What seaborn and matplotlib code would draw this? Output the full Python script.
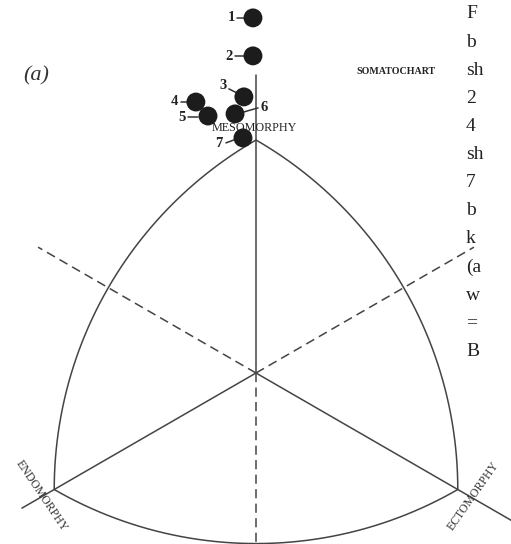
import numpy as np
import pandas as pd
import matplotlib
matplotlib.use("Agg")
import matplotlib.pyplot as plt
import seaborn as sns

# Somatotype positions of the seven groups on the somatochart (chart units, origin at the centre)
group_ids = ["1", "2", "3", "4", "5", "6", "7"]
chart_x = [-0.13, -0.13, -0.52, -2.58, -2.06, -0.90, -0.56]
chart_y = [15.24, 13.61, 11.85, 11.63, 11.03, 11.12, 10.09]

axis_names = ["MESOMORPHY", "ENDOMORPHY", "ECTOMORPHY"]
chart_title = "SOMATOCHART"
panel_tag = "(a)"
# right-hand column of the page running past the figure edge
side_text = ["F", "b", "sh", "2", "4", "sh", "7", "b", "k", "(a", "w", "=", "B"]

sns.set_theme(style="white")
plt.rcParams["font.family"] = ["Liberation Serif", "DejaVu Serif"]

PX = 23.3                 # pixels per chart unit
CX, CY = 256.0, 373.0     # chart centre in pixels
W, H = 511, 544

fig = plt.figure(figsize=(W / 100, H / 100), dpi=100)
ax = fig.add_axes([0, 0, 1, 1])
ax.set_xlim((0 - CX) / PX, (W - CX) / PX)
ax.set_ylim((CY - H) / PX, CY / PX)
ax.set_axis_off()

line_col = "#444444"
lw = 1.1
R = 10.0
ang = {"meso": 90, "endo": 210, "ecto": 330}
vert = {k: np.array([R * np.cos(np.radians(a)), R * np.sin(np.radians(a))]) for k, a in ang.items()}


def ray(angle_deg, length, **kw):
    a = np.radians(angle_deg)
    ax.plot([0, length * np.cos(a)], [0, length * np.sin(a)], **kw)


# solid axes through the three poles
ray(90, (CY - 75) / PX, color=line_col, lw=lw)
ray(210, 11.6, color=line_col, lw=lw)
ray(330, 12.8, color=line_col, lw=lw)
# dashed bisectors
side = R * np.sqrt(3)
dash = dict(color=line_col, lw=lw, dashes=(6, 3.5))
ray(150, 10.8, **dash)
ray(30, 10.8, **dash)
ray(270, side - R, **dash)

# curved sides: each arc is centred on the opposite pole
for a_key, b_key, c_key in [("meso", "endo", "ecto"), ("endo", "ecto", "meso"), ("ecto", "meso", "endo")]:
    c = vert[c_key]
    t0 = np.arctan2(*(vert[a_key] - c)[::-1])
    t1 = np.arctan2(*(vert[b_key] - c)[::-1])
    if t1 - t0 > np.pi:
        t1 -= 2 * np.pi
    if t0 - t1 > np.pi:
        t1 += 2 * np.pi
    t = np.linspace(t0, t1, 200)
    ax.plot(c[0] + side * np.cos(t), c[1] + side * np.sin(t), color=line_col, lw=lw)

# group means
df = pd.DataFrame({"group": group_ids, "x": chart_x, "y": chart_y})
sns.scatterplot(data=df, x="x", y="y", ax=ax, s=185, color="#1c1c1c",
                edgecolor="none", legend=False, zorder=5)

# number labels with short leader lines (offsets in pixels, y downward)
label_layout = {
    "1": ((-22, 0), (-16, 0), (-9, 0)),
    "2": ((-24, 1), (-18, 0), (-9, 0)),
    "3": ((-21, -11), (-15, -8), (-7, -4)),
    "4": ((-21, -1), (-15, 0), (-9, 0)),
    "5": ((-26, 1), (-20, 1), (-10, 1)),
    "6": ((29, -6), (23, -6), (9, -2)),
    "7": ((-24, 6), (-17, 5), (-9, 2)),
}
for _, row in df.iterrows():
    (tx, ty), (l0x, l0y), (l1x, l1y) = label_layout[row["group"]]
    ax.text(row["x"] + tx / PX, row["y"] - ty / PX, row["group"], ha="center", va="center",
            fontsize=10.5, fontweight="bold", color="#222222")
    ax.plot([row["x"] + l0x / PX, row["x"] + l1x / PX],
            [row["y"] - l0y / PX, row["y"] - l1y / PX], color="#333333", lw=1.1)


def px(xp, yp):
    return (xp - CX) / PX, (CY - yp) / PX


ax.text(*px(254, 128), axis_names[0], ha="center", va="center", fontsize=8.7, color="#222222")
ax.text(*px(41, 496), axis_names[1], ha="center", va="center", fontsize=8.5,
        rotation=-56, rotation_mode="anchor", color="#333333")
ax.text(*px(473, 496), axis_names[2], ha="center", va="center", fontsize=8.5,
        rotation=55, rotation_mode="anchor", color="#333333")
ax.text(*px(396, 71), chart_title, ha="center", va="center", fontsize=7.2,
        fontweight="bold", color="#222222")
ax.text(*px(36, 76), panel_tag, ha="center", va="center", fontsize=16,
        fontstyle="italic", color="#333333")

for i, s in enumerate(side_text):
    ax.text(*px(466, 14 + 28.1 * i), s, ha="left", va="center", fontsize=14, color="#222222")

fig.savefig("out.png", dpi=100, facecolor="white")
